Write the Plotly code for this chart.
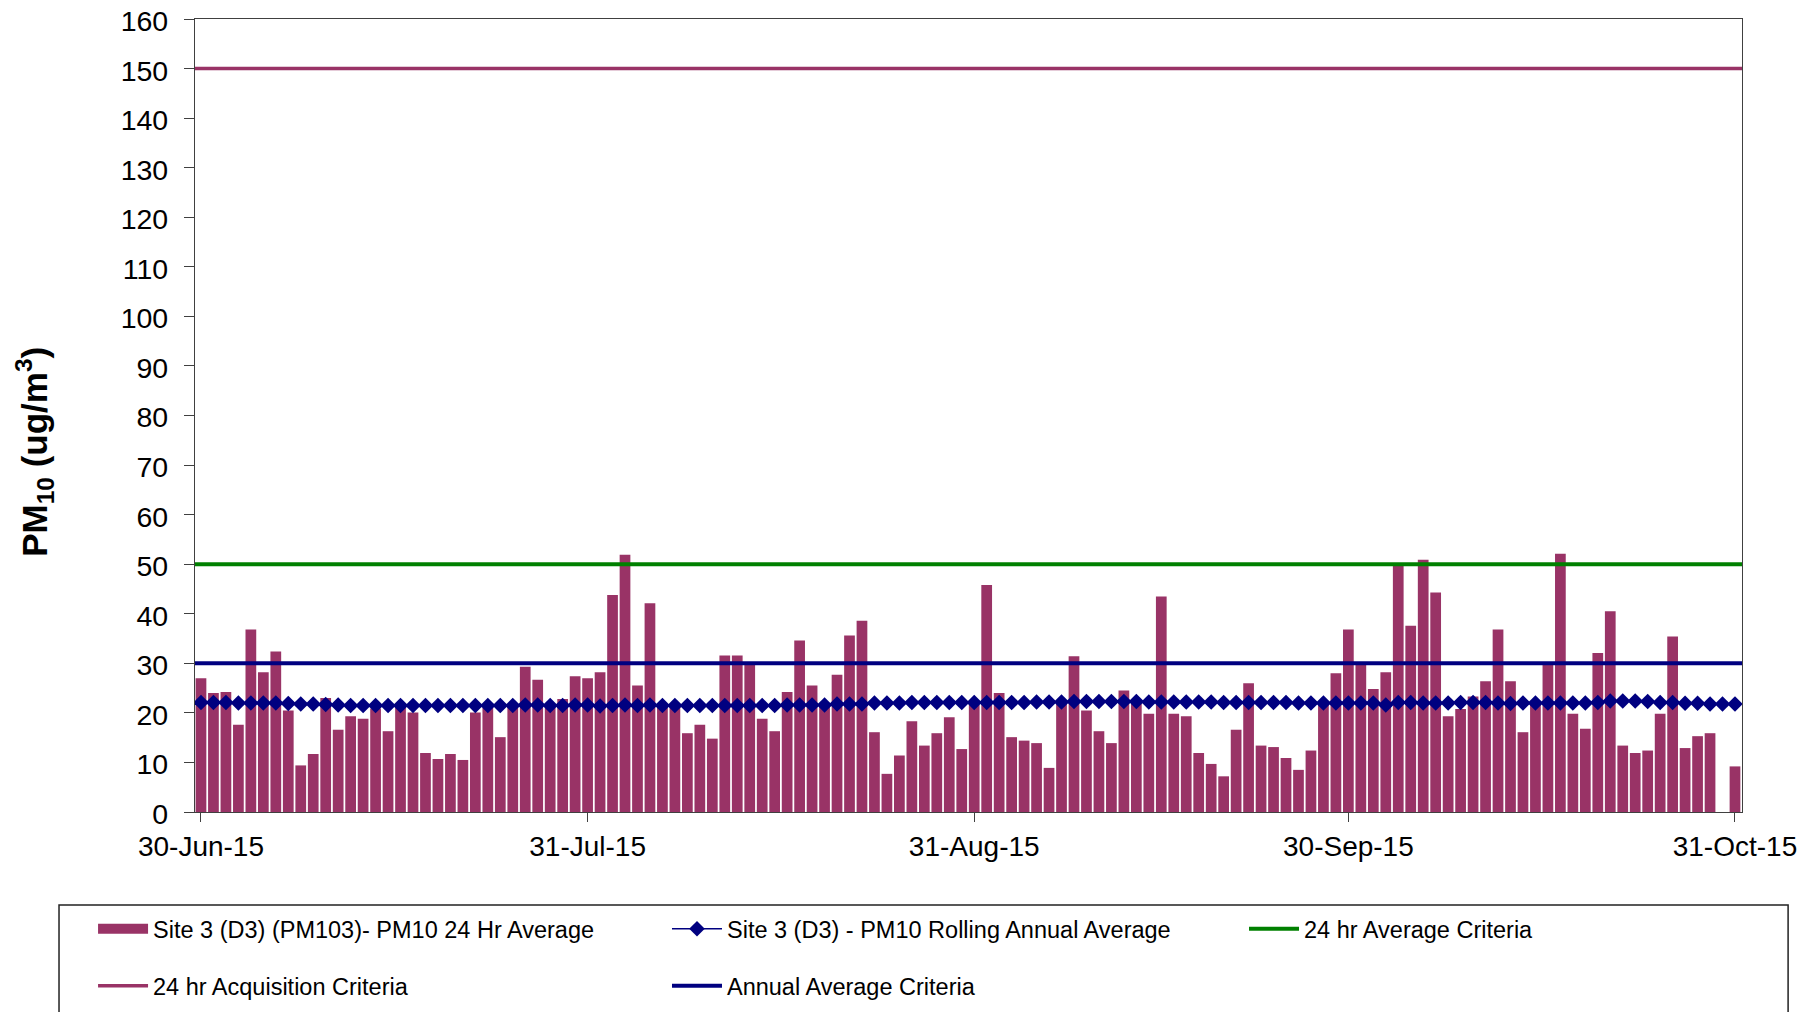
import pandas as pd
import plotly.graph_objects as go

# ---------------- data ----------------
start_date = "2015-06-30"
end_date = "2015-10-31"
dates = pd.date_range(start_date, end_date, freq="D")

pm10_24hr = [
    27.0, 24.0, 24.2, 17.6, 36.8, 28.2, 32.4, 20.5, 9.4, 11.7,
    23.0, 16.6, 19.3, 18.8, 20.9, 16.3, 21.0, 20.1, 11.9, 10.7,
    11.7, 10.5, 20.1, 21.0, 15.1, 21.2, 29.3, 26.7, 21.1, 22.8,
    27.4, 27.0, 28.2, 43.8, 51.9, 25.5, 42.1, 21.0, 21.2, 15.9,
    17.6, 14.8, 31.6, 31.6, 29.7, 18.8, 16.3, 24.2, 34.6, 25.5,
    21.3, 27.7, 35.6, 38.6, 16.1, 7.7, 11.4, 18.3, 13.4, 15.9,
    19.1, 12.7, 21.6, 45.8, 24.0, 15.1, 14.4, 13.9, 8.9, 21.8,
    31.4, 20.5, 16.3, 13.9, 24.5, 21.9, 19.8, 43.5, 19.8, 19.3,
    11.9, 9.7, 7.2, 16.6, 26.0, 13.4, 13.1, 10.9, 8.5, 12.4,
    21.7, 28.0, 36.8, 29.8, 24.8, 28.2, 49.8, 37.6, 50.9, 44.3,
    19.3, 20.8, 23.3, 26.4, 36.8, 26.4, 16.1, 21.8, 29.7, 52.1,
    19.8, 16.8, 32.1, 40.5, 13.4, 11.9, 12.4, 19.8, 35.4, 12.9,
    15.3, 15.9, None, 9.2,
]

rolling_annual = [
    22.1, 22.1, 22.1, 22.0, 22.0, 22.0, 22.0, 21.9, 21.8, 21.8,
    21.7, 21.6, 21.5, 21.5, 21.5, 21.5, 21.5, 21.5, 21.5, 21.5,
    21.5, 21.5, 21.5, 21.5, 21.5, 21.5, 21.6, 21.6, 21.5, 21.5,
    21.6, 21.6, 21.4, 21.5, 21.6, 21.5, 21.6, 21.5, 21.5, 21.5,
    21.5, 21.5, 21.5, 21.5, 21.5, 21.5, 21.5, 21.6, 21.6, 21.6,
    21.6, 21.8, 21.8, 21.8, 22.0, 22.0, 22.0, 22.1, 22.1, 22.1,
    22.1, 22.1, 22.1, 22.1, 22.1, 22.1, 22.1, 22.2, 22.2, 22.2,
    22.3, 22.3, 22.3, 22.3, 22.3, 22.3, 22.2, 22.2, 22.2, 22.2,
    22.2, 22.2, 22.1, 22.1, 22.1, 22.1, 22.1, 22.1, 22.0, 22.0,
    22.0, 22.0, 22.0, 22.0, 22.0, 21.6, 22.1, 22.1, 22.0, 22.0,
    22.0, 22.1, 22.1, 22.1, 22.0, 21.9, 22.0, 22.0, 22.0, 22.0,
    22.0, 22.0, 22.1, 22.4, 22.4, 22.4, 22.3, 22.1, 22.1, 21.95,
    21.95, 21.8, 21.8, 21.8,
]

criteria_24hr = 50
criteria_acquisition = 150
criteria_annual = 30

x_tick_dates = ["2015-06-30", "2015-07-31", "2015-08-31", "2015-09-30", "2015-10-31"]
x_tick_text = ["30-Jun-15", "31-Jul-15", "31-Aug-15", "30-Sep-15", "31-Oct-15"]

x_range = ["2015-06-29 12:30", "2015-10-31 13:30"]

# ---------------- styles ----------------
PLUM = "#993366"
NAVY = "#000080"
GREEN = "#008000"
FONT = "Liberation Sans, Arial, sans-serif"

fig = go.Figure()

# bars (legend entry drawn by a legend-only proxy to get Excel's wide swatch)
fig.add_trace(go.Bar(
    x=dates, y=pm10_24hr, name="Site 3 (D3) (PM103)- PM10 24 Hr Average",
    marker=dict(color=PLUM, line=dict(width=0)), showlegend=False,
))
fig.add_trace(go.Scatter(
    x=[None], y=[None], name="Site 3 (D3) (PM103)- PM10 24 Hr Average",
    mode="lines", line=dict(color=PLUM, width=13), legend="legend",
))
fig.add_trace(go.Scatter(
    x=dates, y=rolling_annual, name="Site 3 (D3) - PM10 Rolling Annual Average",
    mode="lines+markers", line=dict(color=NAVY, width=1.5),
    marker=dict(symbol="diamond", size=12, color=NAVY), legend="legend2",
))
fig.add_trace(go.Scatter(
    x=x_range, y=[criteria_24hr] * 2, name="24 hr Average Criteria",
    mode="lines", line=dict(color=GREEN, width=4), legend="legend3",
))
fig.add_trace(go.Scatter(
    x=x_range, y=[criteria_acquisition] * 2, name="24 hr Acquisition Criteria",
    mode="lines", line=dict(color=PLUM, width=3.5), legend="legend4",
))
fig.add_trace(go.Scatter(
    x=x_range, y=[criteria_annual] * 2, name="Annual Average Criteria",
    mode="lines", line=dict(color=NAVY, width=4), legend="legend5",
))

legend_common = dict(
    orientation="h", xanchor="left", yanchor="bottom",
    font=dict(family=FONT, size=23.5, color="black"),
    bgcolor="rgba(0,0,0,0)", borderwidth=0, itemwidth=50,
)
row1_y = -0.1753
row2_y = -0.2472
col_x = [-0.0659, 0.3051, 0.6781]

fig.update_layout(
    width=1809, height=1004,
    margin=dict(l=187, r=75, t=11, b=200, autoexpand=False),
    paper_bgcolor="white", plot_bgcolor="white",
    font=dict(family=FONT, size=28, color="black"),
    bargap=0.14,
    showlegend=True,
    legend=dict(x=col_x[0], y=row1_y, **legend_common),
    legend2=dict(x=col_x[1], y=row1_y, **legend_common),
    legend3=dict(x=col_x[2], y=row1_y, **legend_common),
    legend4=dict(x=col_x[0], y=row2_y, **legend_common),
    legend5=dict(x=col_x[1], y=row2_y, **legend_common),
    xaxis=dict(
        type="date", range=x_range, automargin=False,
        tickmode="array", tickvals=x_tick_dates, ticktext=x_tick_text,
        ticks="outside", ticklen=9, tickcolor="#404040",
        showline=True, linecolor="#404040", linewidth=1.2, mirror=True,
        showgrid=False, zeroline=False,
        tickfont=dict(family=FONT, size=28, color="black"),
        ticklabelstandoff=0, ticklabeloverflow="allow",
    ),
    yaxis=dict(
        range=[0, 160], dtick=10, tick0=0, automargin=False,
        ticks="outside", ticklen=10, tickcolor="#404040",
        showline=True, linecolor="#404040", linewidth=1.2, mirror=True,
        showgrid=False, zeroline=False,
        tickfont=dict(family=FONT, size=28.5, color="black"),
        ticklabelstandoff=10, ticklabeloverflow="allow", ticklabelshift=2,
    ),
    annotations=[dict(
        text="<b>PM<sub>10</sub> (ug/m<sup>3</sup>)</b>",
        xref="paper", yref="paper", x=-0.1035, y=0.454,
        xanchor="center", yanchor="middle", textangle=-90, showarrow=False,
        font=dict(family=FONT, size=35, color="black"),
    )],
    shapes=[dict(
        type="rect", xref="paper", yref="paper",
        x0=-0.0879, x1=1.0298, y0=-0.1173, y1=-0.45,
        line=dict(color="#222222", width=1.5), fillcolor="rgba(0,0,0,0)",
        layer="above",
    )],
)

fig.write_html("out.html")
